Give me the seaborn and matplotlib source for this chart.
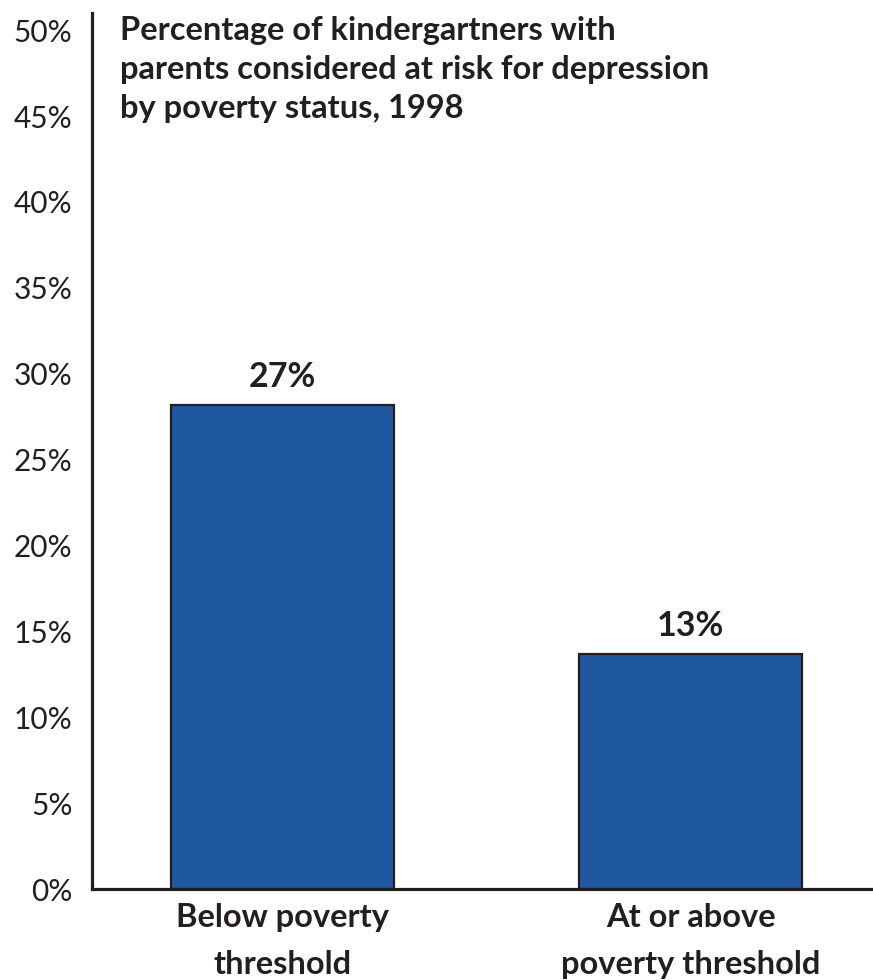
import matplotlib
matplotlib.use("Agg")
import matplotlib.pyplot as plt
import seaborn as sns
import pandas as pd

categories = ["Below poverty\nthreshold", "At or above\npoverty threshold"]
values = [28.2, 13.7]
value_labels = ["27%", "13%"]
yticks = [0, 5, 10, 15, 20, 25, 30, 35, 40, 45, 50]
ytick_labels = [f"{t}%" for t in yticks]
title = "Percentage of kindergartners with\nparents considered at risk for depression\nby poverty status, 1998"

sns.set_theme(style="white")
plt.rcParams["font.family"] = ["Lato", "DejaVu Sans"]

dark = "#231f20"
bar_color = "#1f57a0"

df = pd.DataFrame({"category": categories, "value": values})

fig = plt.figure(figsize=(8.73, 9.8), dpi=100)
ax = fig.add_axes([92 / 873, 91 / 980, 781 / 873, 876 / 980])

sns.barplot(data=df, x="category", y="value", color=bar_color, saturation=1,
            width=0.546, edgecolor=dark, linewidth=1.6, ax=ax)

ax.set_xlim(-0.466, 1.446)
ax.set_ylim(0, 51)
ax.set_yticks(yticks)
ax.set_yticklabels(ytick_labels, fontsize=21.5, color=dark)
ax.tick_params(axis="y", length=0, pad=14)
ax.tick_params(axis="x", length=0, pad=10)
ax.set_xticks(range(len(categories)))
ax.set_xticklabels(categories, fontsize=23.5, fontweight="bold", color=dark, linespacing=1.75)
ax.set_xlabel("")
ax.set_ylabel("")

for s in ["top", "right"]:
    ax.spines[s].set_visible(False)
for s in ["left", "bottom"]:
    ax.spines[s].set_color(dark)
    ax.spines[s].set_linewidth(2.3)

for i, (v, lab) in enumerate(zip(values, value_labels)):
    ax.annotate(lab, xy=(i, v), xytext=(0, 20), textcoords="offset points",
                ha="center", va="center", fontsize=24.5, fontweight="bold", color=dark)

fig.text(120 / 873, 1 - 16 / 980, title, ha="left", va="top", fontsize=23.5,
         fontweight="bold", color=dark, linespacing=1.42)

fig.savefig("out.png", dpi=100, facecolor="white")
